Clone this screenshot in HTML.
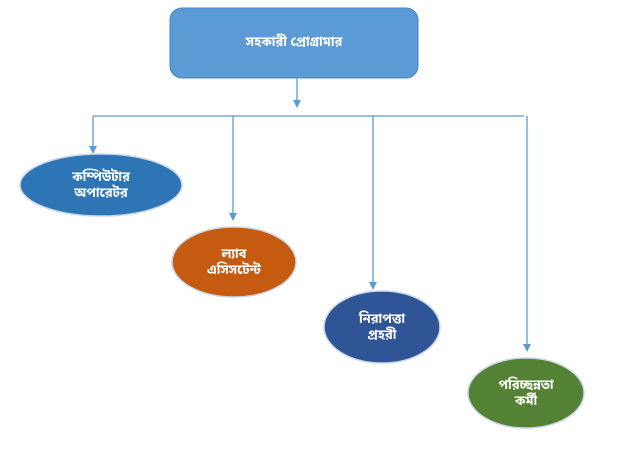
<!DOCTYPE html>
<html><head><meta charset="utf-8"><style>body{margin:0;background:#fff}svg{display:block}text{font-family:"Liberation Sans","Noto Sans Bengali","Noto Sans CJK SC",sans-serif;fill:#fff;font-size:13px;font-weight:bold;text-anchor:middle}</style></head><body>
<svg width="637" height="453" viewBox="0 0 637 453">
<defs><marker id="a" markerWidth="8" markerHeight="8" refX="4" refY="4" orient="auto" markerUnits="userSpaceOnUse"><path d="M0,0 L8,4 L0,8 Z" fill="#5b9bd5"/></marker></defs>
<rect x="170" y="8" width="248" height="70" rx="12" fill="#5b9bd5" stroke="#4a86c0"/>
<text x="294" y="46">সহকারী প্রোগ্রামার</text>
<g stroke="#5b9bd5" stroke-width="1.3" fill="none">
<line x1="297" y1="78" x2="297" y2="104" marker-end="url(#a)"/>
<line x1="93" y1="116" x2="524" y2="116"/>
<line x1="93" y1="116" x2="93" y2="150" marker-end="url(#a)"/>
<line x1="233" y1="116" x2="233" y2="217" marker-end="url(#a)"/>
<line x1="373" y1="116" x2="373" y2="286" marker-end="url(#a)"/>
<line x1="527" y1="116" x2="527" y2="348" marker-end="url(#a)"/>
</g>
<g stroke="#c9d6e6" stroke-width="1.5">
<ellipse cx="101" cy="185" rx="81" ry="31" fill="#2e75b6"/>
<ellipse cx="234" cy="262" rx="62" ry="35" fill="#c55a11"/>
<ellipse cx="382" cy="327" rx="58" ry="36" fill="#2f5597"/>
<ellipse cx="526" cy="393" rx="58" ry="35" fill="#548235"/>
</g>
<text x="101" y="181">কম্পিউটার</text><text x="101" y="197">অপারেটর</text>
<text x="234" y="258">ল্যাব</text><text x="234" y="274">এসিসটেন্ট</text>
<text x="382" y="323">নিরাপত্তা</text><text x="382" y="339">প্রহরী</text>
<text x="526" y="389">পরিচ্ছন্নতা</text><text x="526" y="405">কর্মী</text>
</svg>
</body></html>
